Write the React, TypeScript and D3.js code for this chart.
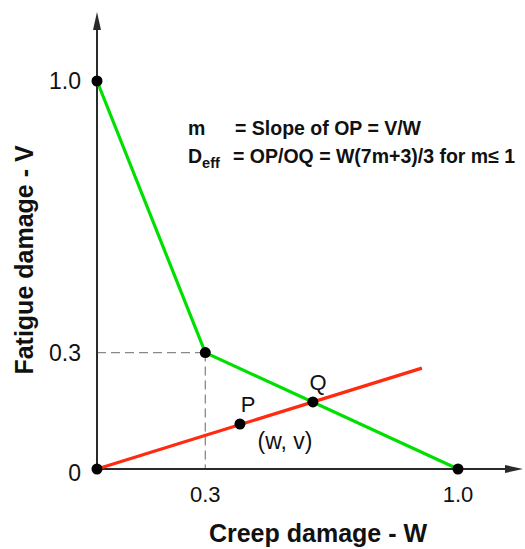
import React from "react";
import * as d3 from "d3";

// Data
const greenW = [0, 0.3, 1.0];
const greenV = [1.0, 0.3, 0];
const redW = [0, 0.9];
const redV = [0, 0.26];
const pointW = [0, 0, 0.3, 1.0, 0.396, 0.598];
const pointV = [0, 1.0, 0.3, 0, 0.116, 0.173];
const yTicks = [0, 0.3, 1.0];
const yTickLabels = ["0", "0.3", "1.0"];
const xTicks = [0.3, 1.0];
const xTickLabels = ["0.3", "1.0"];

const W = 525, H = 549;
const x = d3.scaleLinear().domain([0, 1]).range([97, 458]);
const y = d3.scaleLinear().domain([0, 1]).range([469, 81]);

export default function App() {
  const line = d3.line<[number, number]>().x(d => x(d[0])).y(d => y(d[1]));
  const green = line(greenW.map((w, i) => [w, greenV[i]]));
  const red = line(redW.map((w, i) => [w, redV[i]]));
  const axisColor = "#2a2a2a";
  const font = "Liberation Sans, Arial, sans-serif";
  const xEnd = x(1.18);
  const yEnd = y(1.178);
  return (
    <svg width={W} height={H} style={{ position: "absolute", left: 0, top: 0, background: "#fff" }} fontFamily={font}>
      {/* dashed guides */}
      <line x1={x(0)} y1={y(0.3)} x2={x(0.3)} y2={y(0.3)} stroke="#888" strokeWidth={1.3} strokeDasharray="9,5" />
      <line x1={x(0.3)} y1={y(0.3)} x2={x(0.3)} y2={y(0)} stroke="#888" strokeWidth={1.3} strokeDasharray="9,5" />
      {/* axes */}
      <line x1={x(0)} y1={y(0)} x2={xEnd - 10} y2={y(0)} stroke={axisColor} strokeWidth={2} />
      <path d={`M${xEnd},${y(0)} L${xEnd - 18},${y(0) - 4} L${xEnd - 18},${y(0) + 4} Z`} fill={axisColor} />
      <line x1={x(0)} y1={y(0)} x2={x(0)} y2={yEnd + 10} stroke={axisColor} strokeWidth={2} />
      <path d={`M${x(0)},${yEnd} L${x(0) - 4},${yEnd + 18} L${x(0) + 4},${yEnd + 18} Z`} fill={axisColor} />
      {/* lines */}
      <path d={green || ""} fill="none" stroke="#00e000" strokeWidth={3.2} />
      <path d={red || ""} fill="none" stroke="#ff2a10" strokeWidth={3.2} />
      {/* points */}
      {pointW.map((w, i) => (
        <circle key={i} cx={x(w)} cy={y(pointV[i])} r={5.5} fill="#000" />
      ))}
      {/* tick labels */}
      {yTicks.map((t, i) => (
        <text key={"y" + i} x={x(0) - 16} y={y(t)} dy={i === 0 ? "0.5em" : "0.36em"} textAnchor="end" fontSize={23} fill="#111">
          {yTickLabels[i]}
        </text>
      ))}
      {xTicks.map((t, i) => (
        <text key={"x" + i} x={x(t)} y={502} textAnchor="middle" fontSize={22} fill="#111">
          {xTickLabels[i]}
        </text>
      ))}
      {/* point labels */}
      <text x={248} y={412} textAnchor="middle" fontSize={22} fill="#111">P</text>
      <text x={318} y={390} textAnchor="middle" fontSize={22} fill="#111">Q</text>
      <text x={285} y={449} textAnchor="middle" fontSize={23} fill="#111">(w, v)</text>
      {/* equations */}
      <text x={188} y={135} fontSize={19.5} fontWeight="bold" fill="#111">m</text>
      <text x={235} y={135} fontSize={19.5} fontWeight="bold" fill="#111">= Slope of OP = V/W</text>
      <text x={188} y={163} fontSize={19.5} fontWeight="bold" fill="#111">
        D<tspan fontSize={14.5} dy={5}>eff</tspan>
      </text>
      <text x={233} y={163} fontSize={19.5} fontWeight="bold" fill="#111">= OP/OQ = W(7m+3)/3 for m≤ 1</text>
      {/* axis titles */}
      <text x={318} y={542} textAnchor="middle" fontSize={25} fontWeight="bold" fill="#111">Creep damage - W</text>
      <text transform={`translate(33,260) rotate(-90)`} textAnchor="middle" fontSize={25} fontWeight="bold" fill="#111">Fatigue damage - V</text>
    </svg>
  );
}
